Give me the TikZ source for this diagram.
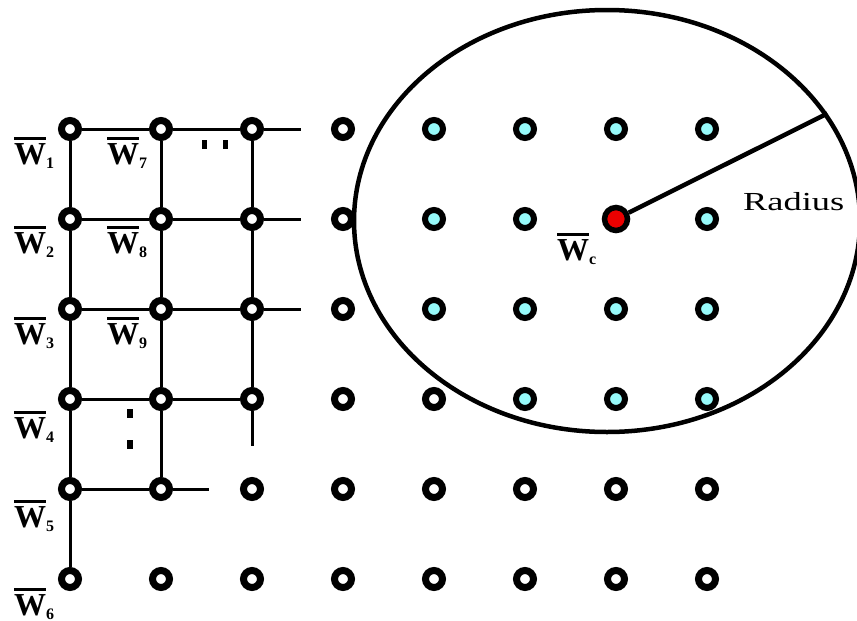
\documentclass[tikz,border=0pt]{standalone}
\usepackage{graphicx}
\usepackage{fontspec}
\setmainfont{Liberation Serif}
\usetikzlibrary{shapes.geometric}

\definecolor{cellcyan}{RGB}{150,250,250}
\definecolor{winred}{RGB}{235,0,0}

% weight vector label: bold W with a thick bar over it and a lowered index
\newcommand{\wvec}[1]{\bfseries\setbox0\hbox{W}%
  \vbox{\hrule width\wd0 height 3pt\kern 3pt\box0}%
  \raisebox{-4pt}{\fontsize{16}{16}\selectfont #1}}

\tikzset{
  unit/.style={circle,draw=black,fill=white,line width=7pt,minimum size=17pt,inner sep=0pt},
  nearunit/.style={unit,fill=cellcyan,line width=6pt,minimum size=18pt},
  winner/.style={circle,draw=black,fill=winred,line width=5.5pt,minimum size=23pt,inner sep=0pt},
  link/.style={line width=3pt},
  wlabel/.style={font=\fontsize{32}{34}\selectfont,inner sep=0pt,anchor=north west},
  dotmark/.style={fill=black},
  zone/.style={ellipse,draw=black,line width=4.5pt,minimum width=506pt,minimum height=422pt,inner sep=0pt}
}

\begin{document}
\begin{tikzpicture}[x=1pt,y=-1pt]
\useasboundingbox (0,0) rectangle (857,621);
\clip (0,0) rectangle (857,621);

% neighbourhood boundary
\node[zone] (hood) at (607,221) {};

% plain units
\foreach \r/\y in {1/129,2/219,3/309,4/399}
  \foreach \c/\x in {1/70,2/161,3/252,4/343}
    \node[unit] (n\r\c) at (\x,\y) {};
\node[unit] (n45) at (434,399) {};
\foreach \r/\y in {5/489,6/579}
  \foreach \c/\x in {1/70,2/161,3/252,4/343,5/434,6/525,7/616,8/707}
    \node[unit] (n\r\c) at (\x,\y) {};

% units inside the neighbourhood
\foreach \r/\y in {1/129,3/309}
  \foreach \c/\x in {5/434,6/525,7/616,8/707}
    \node[nearunit] (n\r\c) at (\x,\y) {};
\node[nearunit] (n25) at (434,219) {};
\node[nearunit] (n26) at (525,219) {};
\node[nearunit] (n28) at (707,219) {};
\node[nearunit] (n46) at (525,399) {};
\node[nearunit] (n47) at (616,399) {};
\node[nearunit] (n48) at (707,399) {};

% winning unit
\node[winner] (wc) at (616,219) {};

% free ends of the grid lines
\coordinate (e1) at (301,129);
\coordinate (e2) at (301,219);
\coordinate (e3) at (301,309);
\coordinate (e5) at (209,489);
\coordinate (e6) at (252,446);

% grid connections
\draw[link] (n11) -- (n12) (n12) -- (n13) (n13) -- (e1);
\draw[link] (n21) -- (n22) (n22) -- (n23) (n23) -- (e2);
\draw[link] (n31) -- (n32) (n32) -- (n33) (n33) -- (e3);
\draw[link] (n41) -- (n42) (n42) -- (n43);
\draw[link] (n51) -- (n52) (n52) -- (e5);
\draw[link] (n11) -- (n21) (n21) -- (n31) (n31) -- (n41) (n41) -- (n51) (n51) -- (n61);
\draw[link] (n12) -- (n22) (n22) -- (n32) (n32) -- (n42) (n42) -- (n52);
\draw[link] (n13) -- (n23) (n23) -- (n33) (n33) -- (n43) (n43) -- (e6);

% radius of the neighbourhood
\draw[line width=4.5pt] (wc) -- (hood.26.8);
\node[font=\fontsize{26}{28}\selectfont,inner sep=0pt,anchor=base west] (rad) at (743,210) {\scalebox{1.4}[1]{Radius}};

% continuation dots
\fill[dotmark] (202,140) rectangle (207,149);
\fill[dotmark] (223,140) rectangle (228,149);
\fill[dotmark] (127,409) rectangle (133,418);
\fill[dotmark] (127,440) rectangle (133,449);

% weight labels
\node[wlabel] (w1) at (14,137) {\wvec{1}};
\node[wlabel] (w2) at (14,226) {\wvec{2}};
\node[wlabel] (w3) at (14,317) {\wvec{3}};
\node[wlabel] (w4) at (14,411) {\wvec{4}};
\node[wlabel] (w5) at (14,500) {\wvec{5}};
\node[wlabel] (w6) at (14,588) {\wvec{6}};
\node[wlabel] (w7) at (107,137) {\wvec{7}};
\node[wlabel] (w8) at (107,226) {\wvec{8}};
\node[wlabel] (w9) at (107,317) {\wvec{9}};
\node[wlabel] (wcl) at (557,233) {\wvec{c}};
\end{tikzpicture}
\end{document}
